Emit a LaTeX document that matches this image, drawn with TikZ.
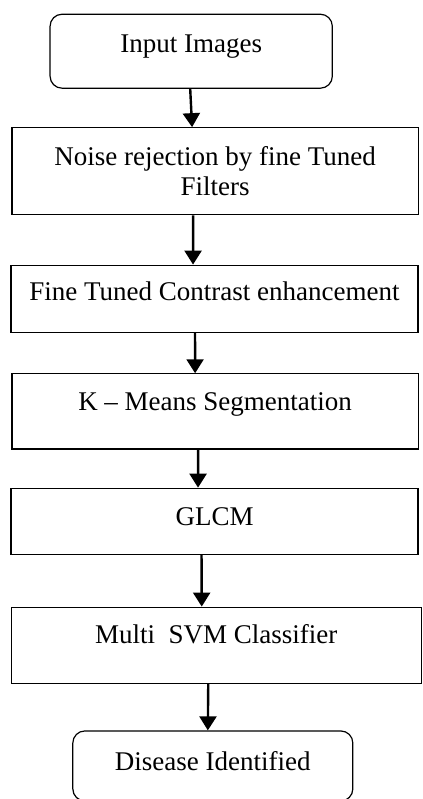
\documentclass[tikz,border=0pt]{standalone}
\usepackage{fontspec}
\setmainfont{Liberation Serif}
\usetikzlibrary{%
        arrows.meta
    }
\tikzset{%
    stage/.style={%
        draw, line width=0.6pt, align=center,
        font=\fontsize{13.5pt}{15pt}\selectfont
    },
    terminal/.style={stage, rounded corners=6pt},
    raised/.style={text height=9pt, text depth=#1},
    flow/.style={-{Triangle[width=8.5pt, length=7pt]}, line width=1.2pt}
}

\begin{document}
\begin{tikzpicture}

    \useasboundingbox (0, 0) rectangle (7.416, -14.041);

    % Stages
    \node[terminal, raised=8pt, minimum width=4.96cm, minimum height=1.30cm]
        (input) at (3.36, -0.90) {Input Images};
    \node[stage, minimum width=7.14cm, minimum height=1.53cm]
        (noise) at (3.78, -3.01) {Noise rejection by fine Tuned\\ Filters};
    \node[stage, raised=7pt, minimum width=7.15cm, minimum height=1.18cm]
        (contrast) at (3.77, -5.25) {Fine Tuned Contrast enhancement};
    \node[stage, raised=10pt, minimum width=7.14cm, minimum height=1.32cm]
        (kmeans) at (3.78, -7.23) {K – Means Segmentation};
    \node[stage, raised=5pt, minimum width=7.15cm, minimum height=1.16cm]
        (glcm) at (3.77, -9.16) {GLCM};
    \node[stage, raised=11pt, minimum width=7.20cm, minimum height=1.34cm]
        (svm) at (3.80, -11.34) {Multi\ \ SVM Classifier};
    \node[terminal, raised=4pt, minimum width=4.92cm, minimum height=1.23cm]
        (disease) at (3.74, -13.46) {Disease Identified};

    % Arrows between stages
    \draw[flow] ([xshift=-0.5pt] input.south) -- ([xshift=-11.5pt] noise.north);
    \draw[flow] ([xshift=-11pt] noise.south) -- ([xshift=-10.75pt] contrast.north);
    \draw[flow] ([xshift=-9.75pt] contrast.south) -- ([xshift=-10pt] kmeans.north);
    \draw[flow] ([xshift=-8.5pt] kmeans.south) -- ([xshift=-8.25pt] glcm.north);
    \draw[flow] ([xshift=-6.5pt] glcm.south) -- ([xshift=-7.25pt] svm.north);
    \draw[flow] ([xshift=-4pt] svm.south) -- ([xshift=-2.5pt] disease.north);

\end{tikzpicture}
\end{document}
